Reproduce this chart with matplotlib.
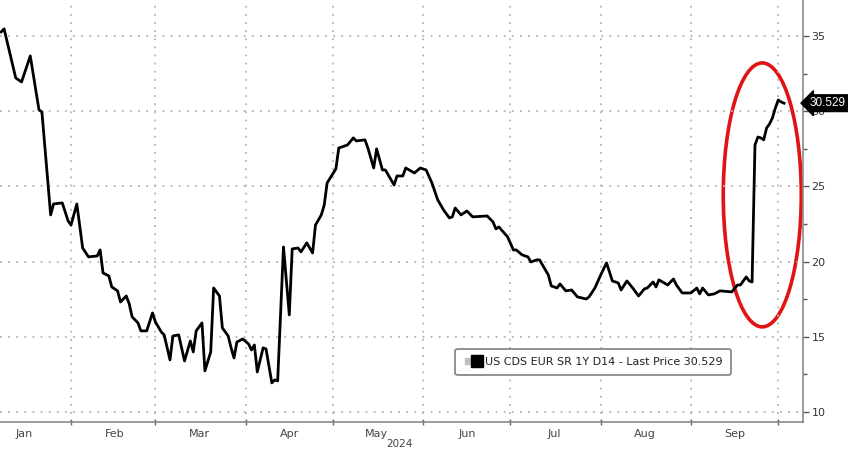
import matplotlib
matplotlib.use("Agg")
import matplotlib.pyplot as plt
import matplotlib.dates as mdates
from matplotlib.patches import Ellipse
from matplotlib.lines import Line2D
from matplotlib.legend_handler import HandlerTuple
import pandas as pd

# days since 2024-01-01 and the CDS level
day_offsets = [7, 8, 12, 14, 17, 20, 21, 24, 25, 28, 30, 31, 33, 35, 37, 40, 41, 42, 44, 45,
               47, 48, 50, 51, 52, 54, 55, 57, 59, 60, 62, 63, 65, 66, 68, 70, 72, 73, 74, 76,
               77, 79, 80, 82, 83, 85, 86, 87, 88, 90, 92, 93, 94, 95, 97, 98, 100, 101, 102, 104,
               106, 107, 109, 110, 112, 114, 115, 117, 118, 119, 122, 123, 126, 128, 129, 132, 133, 135, 136, 138,
               139, 142, 143, 145, 146, 149, 151, 153, 155, 157, 159, 161, 162, 163, 165, 167, 169, 174, 176, 177,
               178, 181, 183, 184, 186, 188, 189, 191, 192, 193, 195, 196, 198, 199, 201, 203, 205, 208, 209, 211,
               213, 215, 217, 219, 220, 222, 224, 225, 226, 228, 229, 231, 232, 233, 236, 238, 239, 241, 244, 246,
               247, 248, 250, 252, 254, 258, 260, 261, 263, 264, 265, 266, 267, 268, 269, 270, 271, 272, 273, 274,
               275, 276]
cds_values = [35.27, 35.47, 32.21, 31.94, 33.67, 30.08, 29.95, 23.10, 23.83, 23.90, 22.70, 22.43, 23.83, 20.90, 20.31, 20.37, 20.77, 19.24, 19.04, 18.31,
              18.05, 17.31, 17.71, 17.18, 16.32, 15.92, 15.39, 15.39, 16.58, 15.98, 15.32, 15.12, 13.46, 15.05, 15.12, 13.39, 14.72, 13.99, 15.39, 15.92,
              12.73, 13.99, 18.24, 17.71, 15.59, 15.05, 14.26, 13.59, 14.65, 14.85, 14.52, 14.12, 14.45, 12.66, 14.26, 14.19, 11.93, 12.13, 12.06, 20.97,
              16.45, 20.84, 20.90, 20.64, 21.24, 20.57, 22.43, 23.10, 23.76, 25.23, 26.16, 27.55, 27.75, 28.22, 28.02, 28.09, 27.55, 26.22, 27.49, 26.09,
              26.09, 25.09, 25.69, 25.69, 26.22, 25.89, 26.22, 26.09, 25.23, 24.10, 23.43, 22.90, 22.97, 23.56, 23.10, 23.36, 22.97, 23.03, 22.63, 22.17,
              22.30, 21.64, 20.77, 20.77, 20.44, 20.31, 19.97, 20.11, 20.11, 19.77, 19.11, 18.38, 18.24, 18.51, 18.05, 18.11, 17.65, 17.51, 17.65, 18.24,
              19.11, 19.91, 18.71, 18.58, 18.11, 18.71, 18.24, 17.98, 17.71, 18.18, 18.24, 18.64, 18.31, 18.78, 18.44, 18.84, 18.44, 17.91, 17.91, 18.24,
              17.85, 18.24, 17.78, 17.85, 18.05, 17.98, 18.44, 18.44, 18.98, 18.71, 18.64, 27.75, 28.28, 28.22, 28.09, 28.88, 29.15, 29.55, 30.21, 30.74,
              30.61, 30.529]

last_price = 30.529
legend_label = "US CDS EUR SR 1Y D14 - Last Price 30.529"
month_names = ["Jan", "Feb", "Mar", "Apr", "May", "Jun", "Jul", "Aug", "Sep"]

start = pd.Timestamp("2024-01-01")
dates = start + pd.to_timedelta(day_offsets, unit="D")

fig = plt.figure(figsize=(8.48, 4.51), dpi=100)
ax = fig.add_axes([0.0, 29 / 451, 803 / 848, 422 / 451])

ax.plot(dates, cds_values, color="black", lw=2.0, solid_joinstyle="round")

# axes look
grid_col = "#b4b4b4"
for s in ["left", "top"]:
    ax.spines[s].set_visible(False)
for s in ["right", "bottom"]:
    ax.spines[s].set_color("#8a8a8a")
    ax.spines[s].set_linewidth(1.2)

ax.yaxis.tick_right()
ax.set_yticks([10, 15, 20, 25, 30, 35])
ax.set_yticks([12.5, 17.5, 22.5, 27.5, 32.5], minor=True)
ax.tick_params(axis="y", which="major", direction="out", length=4, width=1, colors="#555555",
               labelcolor="#333333", labelsize=8, pad=2)
ax.tick_params(axis="y", which="minor", direction="out", length=3, width=1, colors="#555555")

month_starts = pd.date_range("2024-01-01", "2024-10-01", freq="MS")
mid_months = [m + pd.Timedelta(days=15) for m in month_starts[:-1]]
ax.set_xticks(mdates.date2num(month_starts))
ax.set_xticklabels([])
ax.set_xticks(mdates.date2num(mid_months), minor=True)
ax.set_xticklabels(month_names, minor=True)
ax.tick_params(axis="x", which="major", direction="inout", length=5, width=1, colors="#666666")
ax.tick_params(axis="x", which="minor", length=0, labelsize=8, labelcolor="#444444", pad=5)

# limits after ticks, so the Jan 1 tick does not widen the view
ax.set_xlim(mdates.date2num(start + pd.Timedelta(days=6.6)),
            mdates.date2num(start + pd.Timedelta(days=282.5)))
ax.set_ylim(9.33, 37.39)

ax.grid(True, which="major", color=grid_col, linestyle=(0, (1, 3.5)), lw=1.3)

ax.text(mdates.date2num(pd.Timestamp("2024-05-24")), -0.052, "2024", transform=ax.get_xaxis_transform(),
        ha="center", va="center", fontsize=7.5, color="#444444")

# legend box
h_gray = Line2D([], [], marker="s", ls="none", color="#c0c0c0", markersize=5)
h_black = Line2D([], [], marker="s", ls="none", color="black", markersize=8)
leg = ax.legend([(h_gray, h_black)], [legend_label], handler_map={tuple: HandlerTuple(ndivide=None, pad=0.1)},
                loc="center", bbox_to_anchor=(593 / 848, (451 - 362) / 451), bbox_transform=fig.transFigure,
                fontsize=8, frameon=True, fancybox=True, handlelength=1.6, handletextpad=0.3,
                borderpad=0.75, framealpha=1)
leg.get_frame().set_edgecolor("#888888")
leg.get_frame().set_linewidth(1.3)
for t in leg.get_texts():
    t.set_color("#222222")

# last price tag
ax.annotate(f"{last_price:.3f}", xy=(1.0, last_price), xycoords=ax.get_yaxis_transform(),
            xytext=(5, 0), textcoords="offset points", ha="left", va="center", fontsize=8.5,
            family="Liberation Sans", color="white", annotation_clip=False,
            bbox=dict(boxstyle="larrow,pad=0.2", fc="black", ec="black"))

# red highlight
ellipse = Ellipse((mdates.date2num(start + pd.Timedelta(days=268.5)), 24.43), width=26.8, height=17.55,
                  fill=False, ec="#e01414", lw=2.6, clip_on=False)
ax.add_patch(ellipse)

fig.savefig("out.png", dpi=100)
